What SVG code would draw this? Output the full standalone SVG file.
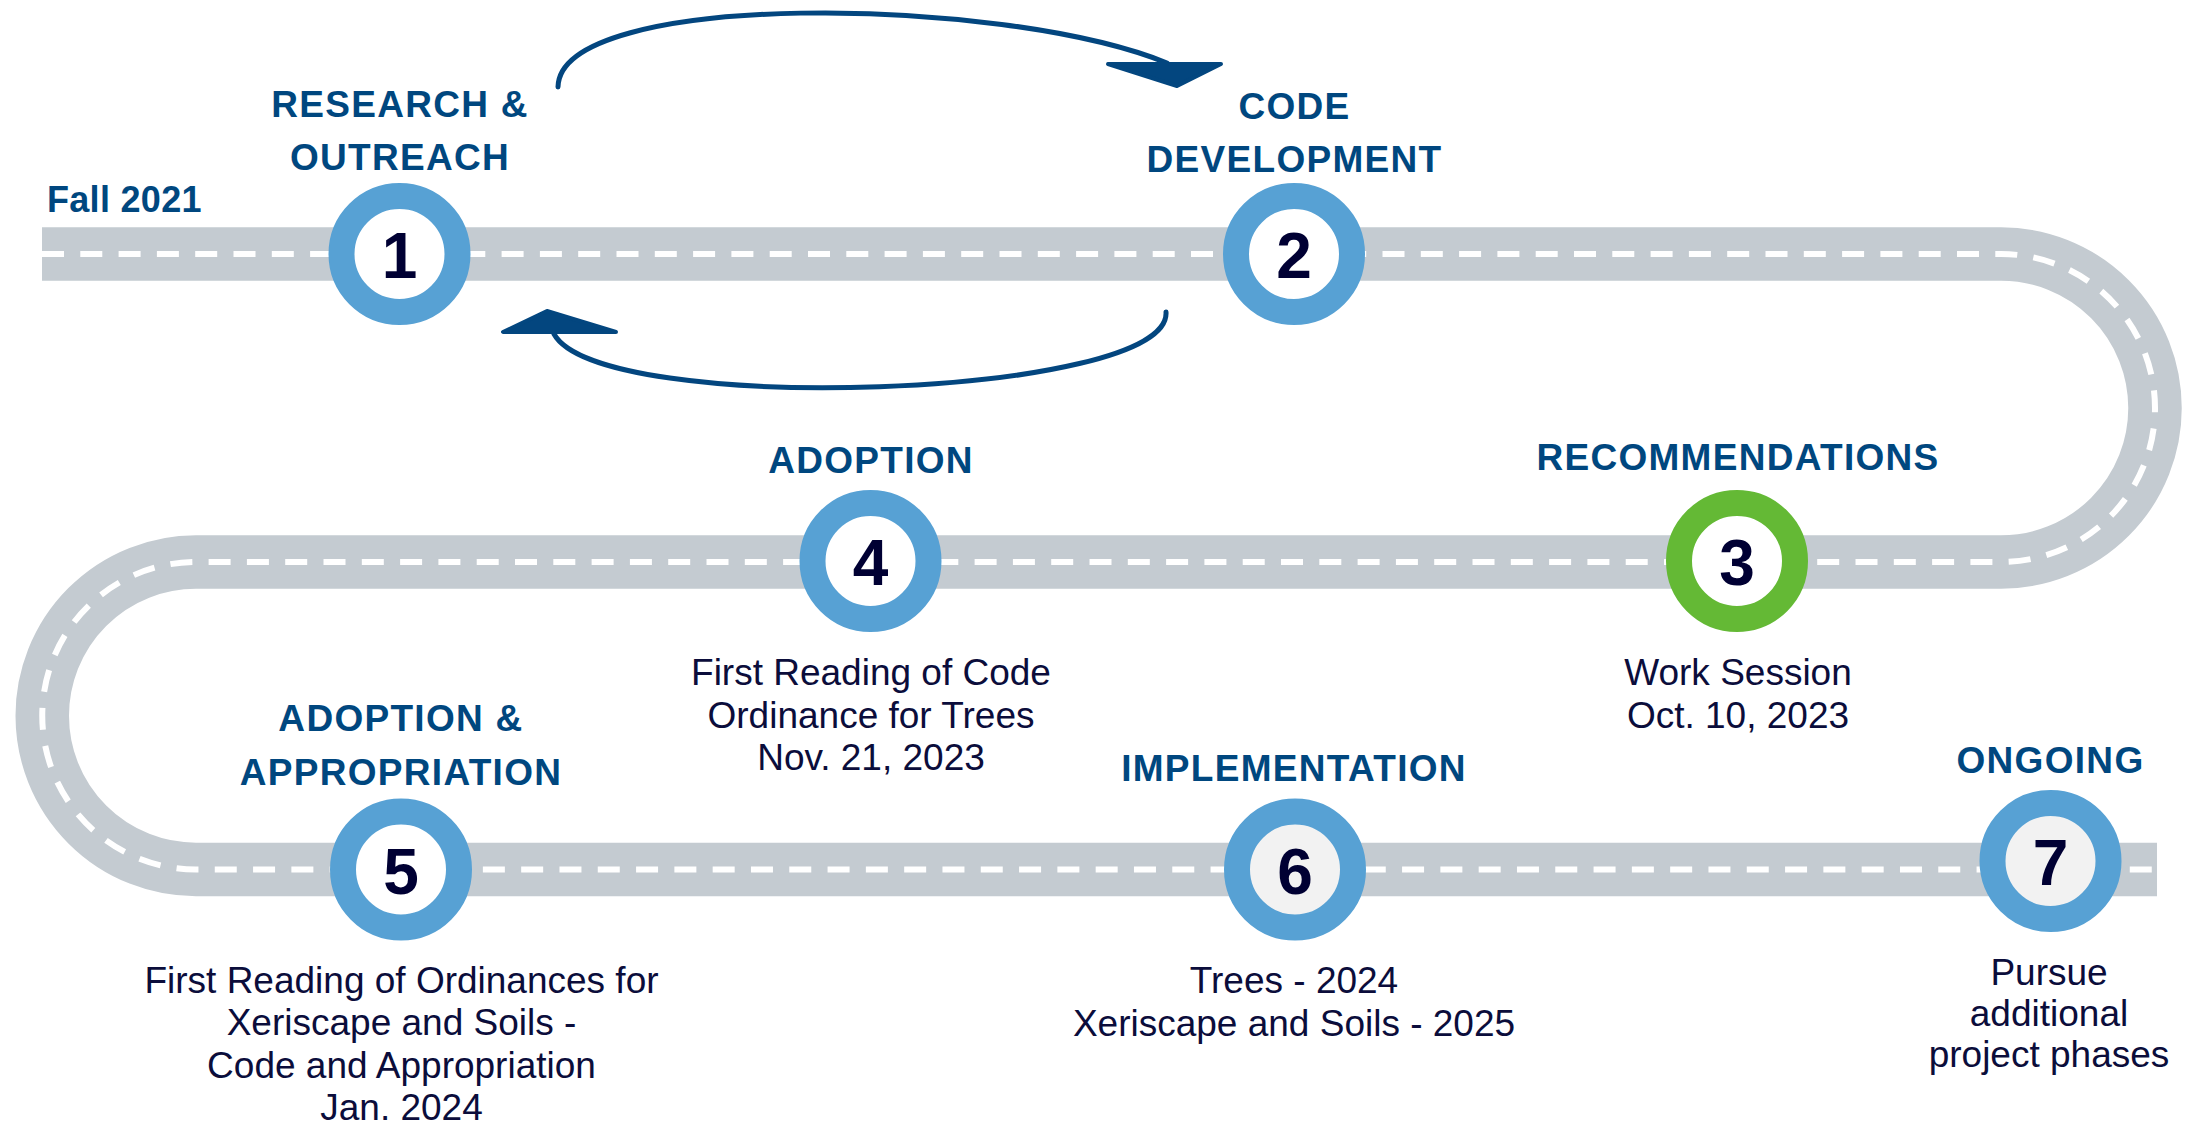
<svg xmlns="http://www.w3.org/2000/svg" width="2194" height="1125" viewBox="0 0 2194 1125">
<style>
.road{fill:none;stroke:#C4CBD1;stroke-width:53.5}
.lane{fill:none;stroke:#FFFFFF;stroke-width:6;stroke-dasharray:22 16.3}
.ring{fill:#FFFFFF;stroke:#57A1D4;stroke-width:26}
.ring.g{stroke:#64B935}
.ring.grey{fill:#F2F2F2}
.num{font-family:"Liberation Sans",Arial,sans-serif;font-weight:bold;font-size:64px;fill:#000033;text-anchor:middle}
.head{font-family:"Liberation Sans",Arial,sans-serif;font-weight:bold;font-size:37px;letter-spacing:1.3px;fill:#00477F;text-anchor:middle}
.body{font-family:"Liberation Sans",Arial,sans-serif;font-size:37px;fill:#0B0D3B;text-anchor:middle}
.arc{fill:none;stroke:#03467F;stroke-width:5;stroke-linecap:round}
.head-tri{fill:#03467F;stroke:#03467F;stroke-width:4;stroke-linejoin:round}
</style>
<rect width="2194" height="1125" fill="#FFFFFF"/>
<g id="road">
<path class="road" d="M 42 254 H 2001 A 154 154 0 0 1 2001 562 H 196 A 153.75 153.75 0 0 0 196 869.5 H 2157"/>
<path class="lane" d="M 42 254 H 2001 A 154 154 0 0 1 2001 562 H 196 A 153.75 153.75 0 0 0 196 869.5 H 2157"/>
</g>
<text x="47" y="212" class="head" style="text-anchor:start;font-size:36px;letter-spacing:0.3px">Fall 2021</text>
<g id="connectors">
<path class="arc" d="M 558 87 C 560 -10, 1000 -5, 1167 63"/>
<polygon class="head-tri" points="1108,64 1221,64 1177,86"/>
<path class="arc" d="M 1166 312 C 1172 398, 600 418, 554 334"/>
<polygon class="head-tri" points="547,311 503,332 616,332"/>
</g>
<g id="node1">
<text x="400" y="117" class="head">RESEARCH &amp;</text>
<text x="400" y="170" class="head">OUTREACH</text>
<circle class="ring" cx="399.5" cy="254" r="58"/>
<text x="399.5" y="278" class="num">1</text>
</g>
<g id="node2">
<text x="1294.5" y="119" class="head">CODE</text>
<text x="1294.5" y="172" class="head">DEVELOPMENT</text>
<circle class="ring" cx="1294" cy="254" r="58"/>
<text x="1294" y="278" class="num">2</text>
</g>
<g id="node3">
<text x="1738" y="470" class="head">RECOMMENDATIONS</text>
<circle class="ring g" cx="1737" cy="561" r="58"/>
<text x="1737" y="585" class="num">3</text>
<text x="1738" y="685" class="body">Work Session</text>
<text x="1738" y="728" class="body">Oct. 10, 2023</text>
</g>
<g id="node4">
<text x="871" y="473" class="head">ADOPTION</text>
<circle class="ring" cx="870.5" cy="561" r="58"/>
<text x="870.5" y="585" class="num">4</text>
<text x="871" y="685" class="body">First Reading of Code</text>
<text x="871" y="728" class="body">Ordinance for Trees</text>
<text x="871" y="770" class="body">Nov. 21, 2023</text>
</g>
<g id="node5">
<text x="401" y="731" class="head">ADOPTION &amp;</text>
<text x="401" y="785" class="head">APPROPRIATION</text>
<circle class="ring" cx="401" cy="869.5" r="58"/>
<text x="401" y="893.5" class="num">5</text>
<text x="401.5" y="993" class="body">First Reading of Ordinances for</text>
<text x="401.5" y="1035" class="body">Xeriscape and Soils -</text>
<text x="401.5" y="1078" class="body">Code and Appropriation</text>
<text x="401.5" y="1120" class="body">Jan. 2024</text>
</g>
<g id="node6">
<text x="1294" y="781" class="head">IMPLEMENTATION</text>
<circle class="ring grey" cx="1295" cy="869.5" r="58"/>
<text x="1295" y="893.5" class="num">6</text>
<text x="1294" y="993" class="body">Trees - 2024</text>
<text x="1294" y="1036" class="body">Xeriscape and Soils - 2025</text>
</g>
<g id="node7">
<text x="2050.5" y="773" class="head">ONGOING</text>
<circle class="ring grey" cx="2050.5" cy="861" r="58"/>
<text x="2050.5" y="885" class="num">7</text>
<text x="2049" y="985" class="body">Pursue</text>
<text x="2049" y="1026" class="body">additional</text>
<text x="2049" y="1067" class="body">project phases</text>
</g>
</svg>
